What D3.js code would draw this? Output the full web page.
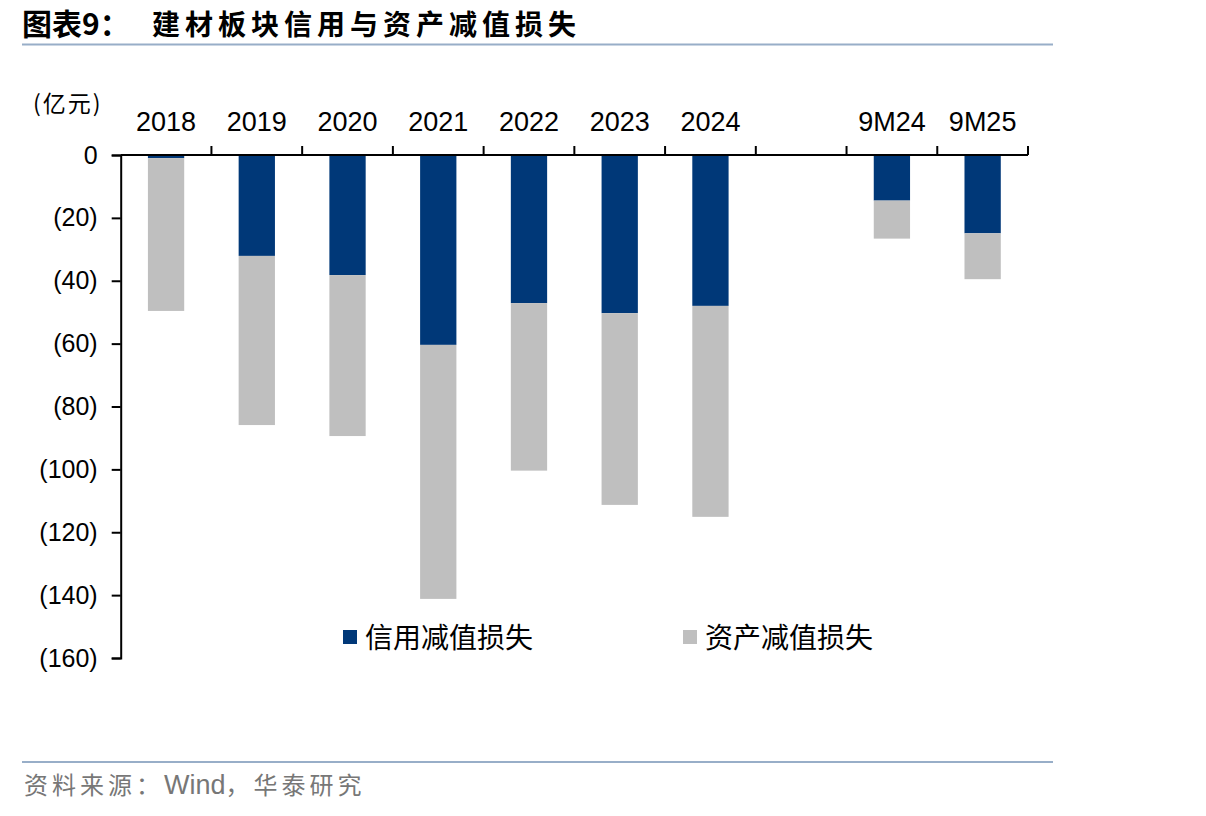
<!DOCTYPE html>
<html><head><meta charset="utf-8">
<script src="https://cdn.jsdelivr.net/npm/d3@7"></script>
<style>
body{margin:0;background:#fff;}
svg{display:block;}
</style></head>
<body>
<svg id="c" width="1206" height="816"></svg>
<script>
const categories = ["2018","2019","2020","2021","2022","2023","2024","","9M24","9M25"];
const creditLoss = [-1.0,-32.1,-38.2,-60.4,-47.1,-50.3,-48.0,null,-14.5,-24.9];
const assetLoss  = [-48.6,-53.8,-51.2,-80.8,-53.3,-61.0,-67.1,null,-12.1,-14.6];
const yTicks = [0,-20,-40,-60,-80,-100,-120,-140,-160];
const seriesNames = ["信用减值损失","资产减值损失"];
const colors = ["#003878","#bfbfbf"];

const svg = d3.select("#c");
const cjk = "'Noto Sans CJK SC','Noto Sans',sans-serif";
const lat = "'Liberation Sans',Arial,sans-serif";

// title
svg.append("text").attr("x",22).attr("y",35).attr("font-family",cjk).attr("font-weight","bold")
  .attr("font-size",30).attr("fill","#000").text("图表9：");
svg.append("text").attr("x",152).attr("y",35).attr("font-family",cjk).attr("font-weight","bold")
  .attr("font-size",28).attr("letter-spacing",5).attr("fill","#000").text("建材板块信用与资产减值损失");
svg.append("line").attr("x1",22).attr("x2",1053).attr("y1",44.5).attr("y2",44.5)
  .attr("stroke","#98aec8").attr("stroke-width",2);
svg.append("line").attr("x1",22).attr("x2",1053).attr("y1",762).attr("y2",762)
  .attr("stroke","#98aec8").attr("stroke-width",2);
const src = svg.append("text").attr("x",24).attr("y",794).attr("font-family",cjk)
  .attr("font-size",24).attr("fill","#777");
src.append("tspan").attr("letter-spacing",4).text("资料来源：");
src.append("tspan").attr("font-family",lat).attr("font-size",27).text("Wind");
src.append("tspan").attr("letter-spacing",4).text("，华泰研究");

const x0 = 120.7, x1 = 1028;
const x = d3.scaleBand().domain(categories).range([x0,x1]).paddingInner(0).paddingOuter(0);
const y = d3.scaleLinear().domain([-160,0]).range([658,155]);

// stacked data
const stacked = categories.map((c,i)=>({c, credit:creditLoss[i], asset:assetLoss[i]}));
const bw = x.bandwidth()*0.4;
const g = svg.append("g");
stacked.forEach(d=>{
  if(d.credit==null) return;
  const cx = x(d.c)+x.bandwidth()/2 - bw/2;
  g.append("rect").attr("x",cx).attr("width",bw)
    .attr("y",y(0)).attr("height",y(d.credit)-y(0)).attr("fill",colors[0]);
  g.append("rect").attr("x",cx).attr("width",bw)
    .attr("y",y(d.credit)).attr("height",y(d.credit+d.asset)-y(d.credit)).attr("fill",colors[1]);
});

// y axis
const yAxis = d3.axisLeft(y).tickValues(yTicks).tickSize(9).tickPadding(14)
  .tickFormat(v=> v===0 ? "0" : "("+Math.abs(v)+")");
const ya = svg.append("g").attr("transform",`translate(${x0},0)`).call(yAxis);
ya.select(".domain").attr("stroke","#000").attr("stroke-width",2);
ya.selectAll(".tick line").attr("stroke","#000").attr("stroke-width",2);
ya.selectAll(".tick text").attr("font-family",lat).attr("font-size",25).attr("fill","#000");

// x axis line at zero with ticks at band boundaries
svg.append("line").attr("x1",x0).attr("x2",x1).attr("y1",y(0)).attr("y2",y(0))
  .attr("stroke","#000").attr("stroke-width",2);
categories.forEach(c=>{
  const bx = x(c)+x.bandwidth();
  svg.append("line").attr("x1",bx).attr("x2",bx).attr("y1",y(0)).attr("y2",y(0)-9)
    .attr("stroke","#000").attr("stroke-width",2);
  svg.append("text").attr("x",x(c)+x.bandwidth()/2).attr("y",131)
    .attr("text-anchor","middle").attr("font-family",lat).attr("font-size",27)
    .attr("fill","#000").text(c);
});

// unit
svg.append("text").attr("x",33).attr("y",112).attr("font-family",cjk)
  .attr("font-size",23).attr("letter-spacing",2).attr("fill","#000").text("(亿元)");

// legend
const leg = [{x:343,name:seriesNames[0],col:colors[0]},{x:683,name:seriesNames[1],col:colors[1]}];
leg.forEach(l=>{
  svg.append("rect").attr("x",l.x).attr("y",630).attr("width",14).attr("height",14).attr("fill",l.col);
  svg.append("text").attr("x",l.x+22).attr("y",648).attr("font-family",cjk)
    .attr("font-size",28).attr("fill","#000").text(l.name);
});
</script>
</body></html>
